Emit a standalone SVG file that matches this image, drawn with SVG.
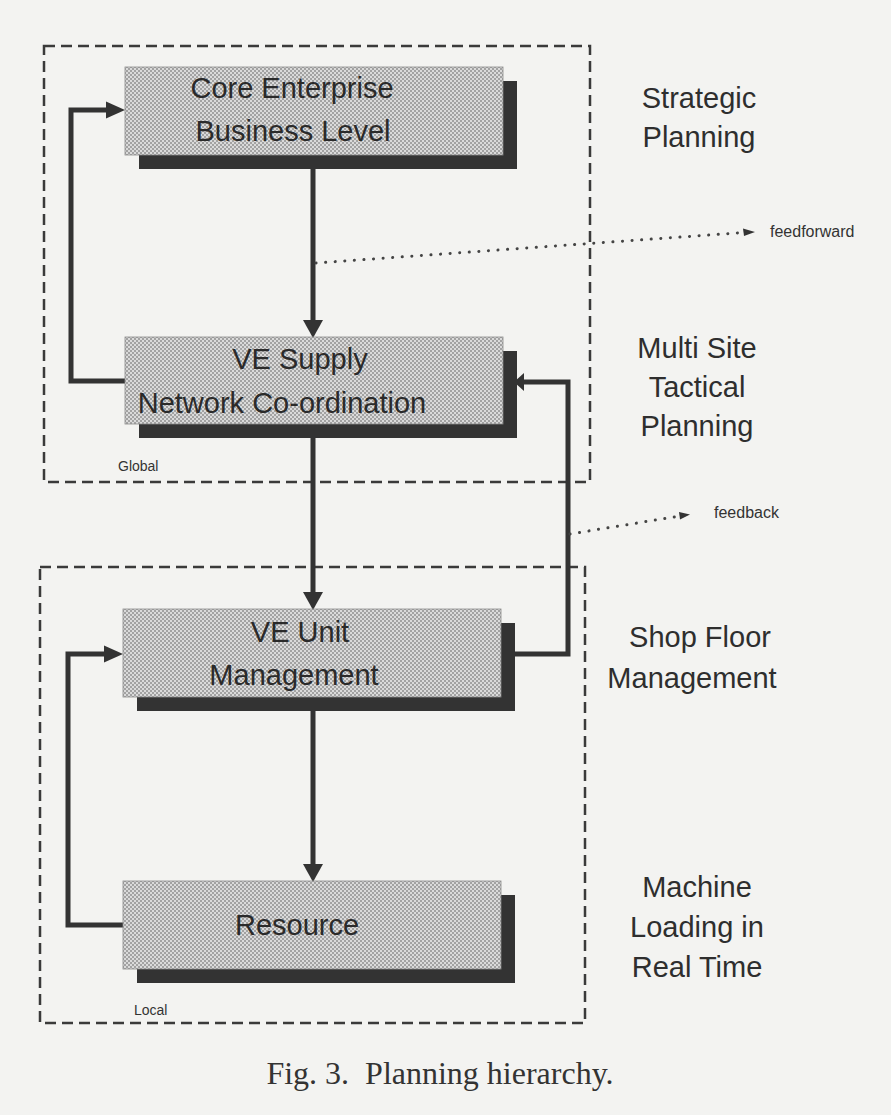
<svg xmlns="http://www.w3.org/2000/svg" width="891" height="1115" viewBox="0 0 891 1115">
<style>
.bg{fill:#f3f3f1}
.region{fill:none;stroke:#3a3a3a;stroke-width:2.5;stroke-dasharray:11 6}
.box{fill:url(#stip);stroke:#8a8a8a;stroke-width:0.8}
.shadow{fill:#333}
.bt{font-family:"Liberation Sans",Arial,sans-serif;font-size:29px;fill:#2a2a2a;text-anchor:middle}
.side{font-family:"Liberation Sans",Arial,sans-serif;font-size:29px;fill:#2e2e2e;text-anchor:middle}
.small{font-family:"Liberation Sans",Arial,sans-serif;font-size:14px;fill:#333}
.flow{font-family:"Liberation Sans",Arial,sans-serif;font-size:16px;fill:#333}
.line{fill:none;stroke:#333;stroke-width:5}
.dot{fill:none;stroke:#444;stroke-width:3;stroke-linecap:round;stroke-dasharray:0.1 9.5}
.head{fill:#333}
.cap{font-family:"Liberation Serif","Times New Roman",serif;font-size:32px;fill:#333;text-anchor:middle}
</style>
<defs>
<pattern id="stip" width="4" height="4" patternUnits="userSpaceOnUse">
<rect width="4" height="4" fill="#dadada"/>
<rect x="0" y="0" width="2" height="2" fill="#a2a2a2"/>
<rect x="2" y="2" width="2" height="2" fill="#a2a2a2"/>
</pattern>
</defs>
<rect class="bg" x="0" y="0" width="891" height="1115"/>

<g id="global-region">
<rect class="region" x="44" y="46" width="546" height="436"/>
<text class="small" x="118" y="471">Global</text>
</g>
<g id="local-region">
<rect class="region" x="40" y="567" width="545" height="456"/>
<text class="small" x="134" y="1015">Local</text>
</g>

<g id="connectors">
<line class="line" x1="313" y1="155" x2="313" y2="322"/>
<polygon class="head" points="303,320 323,320 313,338"/>
<line class="line" x1="313" y1="424" x2="313" y2="594"/>
<polygon class="head" points="303,592 323,592 313,610"/>
<line class="line" x1="313" y1="697" x2="313" y2="866"/>
<polygon class="head" points="303,864 323,864 313,882"/>
<polyline class="line" points="125,381 71,381 71,110 108,110"/>
<polygon class="head" points="106,101.5 125,110 106,118.5"/>
<polyline class="line" points="123,925 68,925 68,654 106,654"/>
<polygon class="head" points="104,645.5 123,654 104,662.5"/>
<polyline class="line" points="501,654 568,654 568,382 522,382"/>
<polygon class="head" points="524,373 514,382 524,391"/>
<line class="dot" x1="316" y1="263" x2="744" y2="232.5"/>
<polygon class="head" points="743,228.5 755,232 744,236"/>
<text class="flow" x="770" y="237">feedforward</text>
<line class="dot" x1="570" y1="534" x2="680" y2="516"/>
<polygon class="head" points="679,512 690,514.5 680,519.5"/>
<text class="flow" x="714" y="518">feedback</text>
</g>

<g id="node-core">
<rect class="shadow" x="139" y="81" width="378" height="88"/>
<rect class="box" x="125" y="67" width="378" height="88"/>
<text class="bt" x="292" y="98">Core Enterprise</text>
<text class="bt" x="293" y="141">Business Level</text>
</g>
<g id="node-supply">
<rect class="shadow" x="139" y="351" width="378" height="87"/>
<rect class="box" x="125" y="337" width="378" height="87"/>
<text class="bt" x="300" y="369">VE Supply</text>
<text class="bt" x="282" y="413">Network Co-ordination</text>
</g>
<g id="node-unit">
<rect class="shadow" x="137" y="623" width="378" height="88"/>
<rect class="box" x="123" y="609" width="378" height="88"/>
<text class="bt" x="300" y="642">VE Unit</text>
<text class="bt" x="294" y="685">Management</text>
</g>
<g id="node-resource">
<rect class="shadow" x="137" y="895" width="378" height="88"/>
<rect class="box" x="123" y="881" width="378" height="88"/>
<text class="bt" x="297" y="935">Resource</text>
</g>

<g id="level-labels">
<text class="side" x="699" y="108">Strategic</text>
<text class="side" x="699" y="147">Planning</text>
<text class="side" x="697" y="358">Multi Site</text>
<text class="side" x="697" y="397">Tactical</text>
<text class="side" x="697" y="436">Planning</text>
<text class="side" x="700" y="647">Shop Floor</text>
<text class="side" x="692" y="688">Management</text>
<text class="side" x="697" y="897">Machine</text>
<text class="side" x="697" y="937">Loading in</text>
<text class="side" x="697" y="977">Real Time</text>
</g>

<text class="cap" x="440" y="1084" xml:space="preserve">Fig. 3.  Planning hierarchy.</text>
</svg>
